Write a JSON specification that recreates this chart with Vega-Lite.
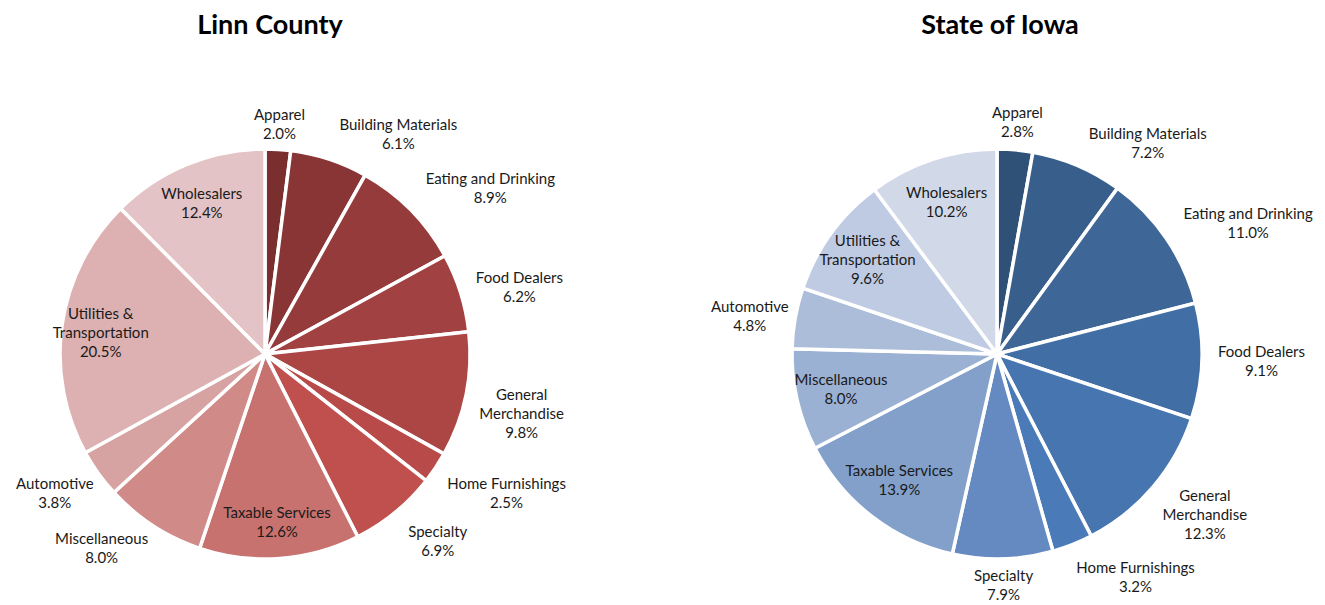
{
  "$schema": "https://vega.github.io/schema/vega-lite/v6.json",
  "padding": {"left": 0, "top": 12, "right": 0, "bottom": 0},
  "background": "white",
  "bounds": "flush",
  "config": {"view": {"stroke": null}, "font": "Lato"},
  "datasets": {
    "linn": [
      {"idx": 1, "name": "Apparel", "pct": 2.0, "pos": "top"},
      {"idx": 2, "name": "Building Materials", "pct": 6.1, "pos": "ur"},
      {"idx": 3, "name": "Eating and Drinking", "pct": 8.9, "pos": "ur"},
      {"idx": 4, "name": "Food Dealers", "pct": 6.2, "pos": "r"},
      {"idx": 5, "name": "General\nMerchandise", "pct": 9.8, "pos": "lr"},
      {"idx": 6, "name": "Home Furnishings", "pct": 2.5, "pos": "lr"},
      {"idx": 7, "name": "Specialty", "pct": 6.9, "pos": "lr"},
      {"idx": 8, "name": "Taxable Services", "pct": 12.6, "pos": "in"},
      {"idx": 9, "name": "Miscellaneous", "pct": 8.0, "pos": "ll"},
      {"idx": 10, "name": "Automotive", "pct": 3.8, "pos": "ll"},
      {"idx": 11, "name": "Utilities &\nTransportation", "pct": 20.5, "pos": "in"},
      {"idx": 12, "name": "Wholesalers", "pct": 12.4, "pos": "in"}
    ],
    "iowa": [
      {"idx": 1, "name": "Apparel", "pct": 2.8, "pos": "top"},
      {"idx": 2, "name": "Building Materials", "pct": 7.2, "pos": "ur"},
      {"idx": 3, "name": "Eating and Drinking", "pct": 11.0, "pos": "ur"},
      {"idx": 4, "name": "Food Dealers", "pct": 9.1, "pos": "r"},
      {"idx": 5, "name": "General\nMerchandise", "pct": 12.3, "pos": "lr"},
      {"idx": 6, "name": "Home Furnishings", "pct": 3.2, "pos": "lr"},
      {"idx": 7, "name": "Specialty", "pct": 7.9, "pos": "bottom"},
      {"idx": 8, "name": "Taxable Services", "pct": 13.9, "pos": "in"},
      {"idx": 9, "name": "Miscellaneous", "pct": 8.0, "pos": "in"},
      {"idx": 10, "name": "Automotive", "pct": 4.8, "pos": "l"},
      {"idx": 11, "name": "Utilities &\nTransportation", "pct": 9.6, "pos": "in"},
      {"idx": 12, "name": "Wholesalers", "pct": 10.2, "pos": "in"}
    ]
  },
  "spacing": 202,
  "resolve": {"scale": {"color": "independent", "theta": "independent"}},
  "hconcat": [
    {
      "width": 530,
      "height": 500,
      "title": {"text": "Linn County", "fontSize": 27, "fontWeight": "bold", "font": "Lato", "color": "#000000", "anchor": "middle", "dx": 5, "offset": 64},
      "data": {"name": "linn"},
      "transform": [{"calculate": "datum.name + '\\n' + format(datum.pct, '.1f') + '%'", "as": "label"}],
      "encoding": {
        "theta": {"field": "pct", "type": "quantitative", "stack": true},
        "order": {"field": "idx", "type": "quantitative"}
      },
      "layer": [
        {
          "mark": {"type": "arc", "outerRadius": 205, "stroke": "white", "strokeWidth": 3.5},
          "encoding": {
            "color": {
              "field": "name", "type": "nominal", "legend": null,
              "scale": {
                "domain": ["Apparel", "Building Materials", "Eating and Drinking", "Food Dealers", "General\nMerchandise", "Home Furnishings", "Specialty", "Taxable Services", "Miscellaneous", "Automotive", "Utilities &\nTransportation", "Wholesalers"],
                "range": ["#7A2E2E", "#8A3535", "#963B3B", "#A14141", "#AB4644", "#B84B49", "#C0504D", "#C87270", "#D08A88", "#D6A3A2", "#DDB1B1", "#E3C3C5"]
              }
            }
          }
        },
        {
          "mark": {
            "type": "text", "lineBreak": "\n", "fontSize": 15, "font": "Lato", "color": "#1a1a1a", "lineHeight": 19, "align": "center",
            "radius": {"expr": "datum.pos == 'in' ? 166 : (datum.pos == 'top' || datum.pos == 'bottom') ? 230 : (datum.pos == 'ur' || datum.pos == 'r' || datum.pos == 'lr') ? 222 : 215"},
            "dx": {"expr": "((datum.pos == 'ur' || datum.pos == 'r' || datum.pos == 'lr') ? 3.55 : (datum.pos == 'l' || datum.pos == 'll') ? -3.55 : 0) * max(length(split(datum.name, '\\n')[0]), length(peek(split(datum.name, '\\n'))))"},
            "dy": {"expr": "-9.5 * (length(split(datum.label, '\\n')) - 1) + (datum.pos == 'lr' ? 16 : datum.pos == 'll' ? 14 : datum.pos == 'ur' ? -9 : datum.pos == 'in' ? 3 : 0)"}
          },
          "encoding": {"text": {"field": "label"}}
        }
      ]
    },
    {
      "width": 530,
      "height": 500,
      "title": {"text": "State of Iowa", "fontSize": 27, "fontWeight": "bold", "font": "Lato", "color": "#000000", "anchor": "middle", "dx": 3, "offset": 64},
      "data": {"name": "iowa"},
      "transform": [{"calculate": "datum.name + '\\n' + format(datum.pct, '.1f') + '%'", "as": "label"}],
      "encoding": {
        "theta": {"field": "pct", "type": "quantitative", "stack": true},
        "order": {"field": "idx", "type": "quantitative"}
      },
      "layer": [
        {
          "mark": {"type": "arc", "outerRadius": 205, "stroke": "white", "strokeWidth": 3.5},
          "encoding": {
            "color": {
              "field": "name", "type": "nominal", "legend": null,
              "scale": {
                "domain": ["Apparel", "Building Materials", "Eating and Drinking", "Food Dealers", "General\nMerchandise", "Home Furnishings", "Specialty", "Taxable Services", "Miscellaneous", "Automotive", "Utilities &\nTransportation", "Wholesalers"],
                "range": ["#2F5077", "#385E8B", "#3E6697", "#416EA4", "#4675AF", "#4A7BB8", "#648AC1", "#83A0CB", "#9AB1D4", "#ACBDDA", "#BECBE3", "#D1D9E9"]
              }
            }
          }
        },
        {
          "mark": {
            "type": "text", "lineBreak": "\n", "fontSize": 15, "font": "Lato", "color": "#1a1a1a", "lineHeight": 19, "align": "center",
            "radius": {"expr": "datum.pos == 'in' ? 160 : (datum.pos == 'top' || datum.pos == 'bottom') ? 232 : (datum.pos == 'ur' || datum.pos == 'r' || datum.pos == 'lr') ? 222 : 215"},
            "dx": {"expr": "((datum.pos == 'ur' || datum.pos == 'r' || datum.pos == 'lr') ? 3.55 : (datum.pos == 'l' || datum.pos == 'll') ? -3.55 : 0) * max(length(split(datum.name, '\\n')[0]), length(peek(split(datum.name, '\\n'))))"},
            "dy": {"expr": "-9.5 * (length(split(datum.label, '\\n')) - 1) + (datum.pos == 'lr' ? 17 : datum.pos == 'll' ? 14 : datum.pos == 'ur' ? -6 : 0)"}
          },
          "encoding": {"text": {"field": "label"}}
        }
      ]
    }
  ]
}
